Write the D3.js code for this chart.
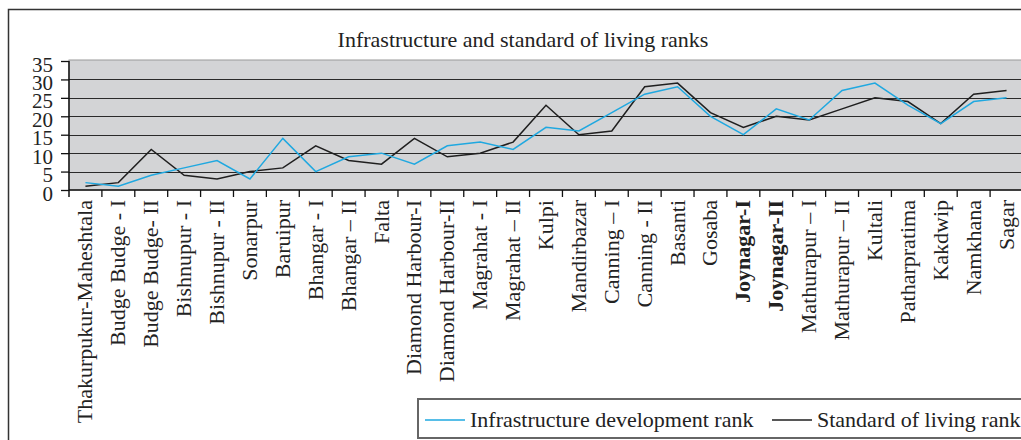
<!DOCTYPE html>
<meta charset="utf-8">
<body style="margin:0;background:#fff">
    <div id="chart"></div>
</body>
<script src="https://d3js.org/d3.v7.min.js"></script>
<style>
    body { font-family: "Liberation Serif", "Times New Roman", serif; }
    text { fill: #222; }
</style>
<script>
    // blocks along the x axis
    var blocks = ["Thakurpukur-Maheshtala", "Budge Budge - I", "Budge Budge- II", "Bishnupur - I",
        "Bishnupur - II", "Sonarpur", "Baruipur", "Bhangar - I", "Bhangar \u2013 II", "Falta",
        "Diamond Harbour-I", "Diamond Harbour-II", "Magrahat - I", "Magrahat \u2013 II", "Kulpi",
        "Mandirbazar", "Canning \u2013 I", "Canning - II", "Basanti", "Gosaba", "Joynagar-I",
        "Joynagar-II", "Mathurapur \u2013 I", "Mathurapur \u2013 II", "Kultali", "Patharpratima",
        "Kakdwip", "Namkhana", "Sagar"];

    var infraRank = [2, 1, 4, 6, 8, 3, 14, 5, 9, 10, 7, 12, 13, 11, 17, 16, 21, 26, 28, 20,
        15, 22, 19, 27, 29, 23, 18, 24, 25];

    var livingRank = [1, 2, 11, 4, 3, 5, 6, 12, 8, 7, 14, 9, 10, 13, 23, 15, 16, 28, 29, 21,
        17, 20, 19, 22, 25, 24, 18, 26, 27];

    var yTicks = [0, 5, 10, 15, 20, 25, 30, 35];

    var boldBlocks = ["Joynagar-I", "Joynagar-II"];

    var width = 1021,
        height = 440;

    // plot box (note: "top" is reserved on window, so use other names)
    var plotLeft = 69, plotRight = 1023, plotTop = 61, plotBottom = 190;

    var svg = d3.select("#chart")
        .append("svg")
            .attr("width", width)
            .attr("height", height);

    // outer frame (only top and left show)
    svg.append("path")
        .attr("d", "M8.5,450V9.5H1030")
        .attr("fill", "none")
        .attr("stroke", "#333")
        .attr("stroke-width", 1.5);

    var x = d3.scaleBand()
        .domain(blocks)
        .range([plotLeft, plotRight])
        .padding(0);

    var y = d3.scaleLinear()
        .domain([0, 35])
        .range([plotBottom, plotTop]);

    // plot area
    svg.append("rect")
        .attr("x", plotLeft)
        .attr("y", y(35) - 1)
        .attr("width", plotRight - plotLeft)
        .attr("height", plotBottom - y(35) + 1)
        .attr("fill", "#d3d4d6")
        .attr("stroke", "#9a9a9a")
        .attr("stroke-width", 1);

    // gridlines
    svg.append("g")
        .selectAll("line")
        .data(yTicks.filter(function(d) { return d > 0 && d < 35; }))
        .enter().append("line")
            .attr("x1", plotLeft)
            .attr("x2", plotRight)
            .attr("y1", function(d) { return Math.round(y(d)) + 0.5; })
            .attr("y2", function(d) { return Math.round(y(d)) + 0.5; })
            .attr("stroke", "#2a2a2a")
            .attr("stroke-width", 1.2);

    // y axis
    var yAxis = svg.append("g")
        .attr("transform", "translate(" + plotLeft + ",0)")
        .call(d3.axisLeft(y).tickValues(yTicks).tickSize(8).tickPadding(8));
    yAxis.select(".domain").attr("stroke", "#111").attr("stroke-width", 1.5)
        .attr("d", "M0," + y(35) + "V" + (plotBottom + 7));
    yAxis.selectAll(".tick line").attr("stroke", "#111").attr("stroke-width", 1.3);
    yAxis.selectAll(".tick text")
        .attr("font-family", "Liberation Serif")
        .attr("font-size", 21)
        .attr("dy", "0.48em")
        .style("fill", "#222");

    // x axis line and ticks at band edges
    svg.append("line")
        .attr("x1", plotLeft).attr("x2", plotRight)
        .attr("y1", plotBottom).attr("y2", plotBottom)
        .attr("stroke", "#111").attr("stroke-width", 1.5);

    svg.append("g")
        .selectAll("line")
        .data(blocks.slice(1))
        .enter().append("line")
            .attr("x1", function(d) { return x(d); })
            .attr("x2", function(d) { return x(d); })
            .attr("y1", plotBottom)
            .attr("y2", plotBottom + 7)
            .attr("stroke", "#111")
            .attr("stroke-width", 1.3);

    // rotated category labels
    svg.append("g")
        .selectAll("text")
        .data(blocks)
        .enter().append("text")
            .attr("transform", function(d) {
                return "translate(" + (x(d) + x.bandwidth() / 2 + 7) + "," + (plotBottom + 10) + ") rotate(-90)";
            })
            .attr("text-anchor", "end")
            .attr("font-family", "Liberation Serif")
            .attr("font-size", 22)
            .attr("font-weight", function(d) { return boldBlocks.indexOf(d) >= 0 ? "bold" : "normal"; })
            .text(function(d) { return d; });

    // series lines
    var line = d3.line()
        .x(function(d, i) { return x(blocks[i]) + x.bandwidth() / 2; })
        .y(function(d) { return y(d); });

    svg.append("path")
        .datum(livingRank)
        .attr("d", line)
        .attr("fill", "none")
        .attr("stroke", "#1f1f1f")
        .attr("stroke-width", 1.5);

    svg.append("path")
        .datum(infraRank)
        .attr("d", line)
        .attr("fill", "none")
        .attr("stroke", "#1fa8e0")
        .attr("stroke-width", 1.5);

    // title
    svg.append("text")
        .attr("x", 523)
        .attr("y", 47)
        .attr("text-anchor", "middle")
        .attr("font-family", "Liberation Serif")
        .attr("font-size", 22)
        .text("Infrastructure and standard of living ranks");

    // legend
    var legend = svg.append("g").attr("transform", "translate(418,399)");
    legend.append("rect")
        .attr("x", 0).attr("y", 0)
        .attr("width", 640).attr("height", 39)
        .attr("fill", "#fff")
        .attr("stroke", "#666")
        .attr("stroke-width", 2);

    var legendItems = [
        { name: "Infrastructure development rank", color: "#1fa8e0", x: 7 },
        { name: "Standard of living rank", color: "#1f1f1f", x: 354 }
    ];

    var item = legend.selectAll(".item")
        .data(legendItems)
        .enter().append("g")
            .attr("transform", function(d) { return "translate(" + d.x + ",0)"; });
    item.append("line")
        .attr("x1", 0).attr("x2", 40)
        .attr("y1", 21).attr("y2", 21)
        .attr("stroke", function(d) { return d.color; })
        .attr("stroke-width", 1.5);
    item.append("text")
        .attr("x", 45)
        .attr("y", 28)
        .attr("font-family", "Liberation Serif")
        .attr("font-size", 22)
        .text(function(d) { return d.name; });
</script>
